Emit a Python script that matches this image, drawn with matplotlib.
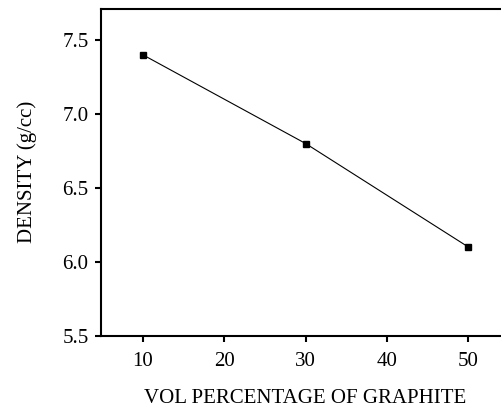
import matplotlib
matplotlib.use("Agg")
from matplotlib import pyplot as plt

graphite_vol = [10, 30, 50]
density = [7.4, 6.8, 6.1]

x_ticks = [10, 20, 30, 40, 50]
y_ticks = [5.5, 6.0, 6.5, 7.0, 7.5]

plt.rcParams['font.family'] = ['Liberation Serif', 'DejaVu Serif']

fig = plt.figure(figsize=(5.02, 4.08), dpi=100)
# axes run past the right edge, as in the cropped original
ax = fig.add_axes([101 / 502, 1 - 335.7 / 408, 408 / 502, (335.7 - 9) / 408])

ax.plot(graphite_vol, density, color='black', linewidth=0.8,
        marker='s', markersize=5, markerfacecolor='black',
        markeredgecolor='black')

ax.set_xlim(4.85, 55)
ax.set_ylim(5.5, 7.71)
ax.set_xticks(x_ticks)
ax.set_yticks(y_ticks)
ax.set_yticklabels([f"{v:.1f}" for v in y_ticks])

for s in ax.spines.values():
    s.set_linewidth(1.5)
ax.tick_params(direction='out', length=4, width=1.5, labelsize=15,
               top=False, right=False)
ax.tick_params(axis='x', pad=8)
ax.tick_params(axis='y', pad=5)

ax.set_xlabel("VOL PERCENTAGE OF GRAPHITE", fontsize=15, labelpad=13)
ax.set_ylabel("DENSITY (g/cc)", fontsize=15, labelpad=18)

fig.savefig("out.png", dpi=100)
